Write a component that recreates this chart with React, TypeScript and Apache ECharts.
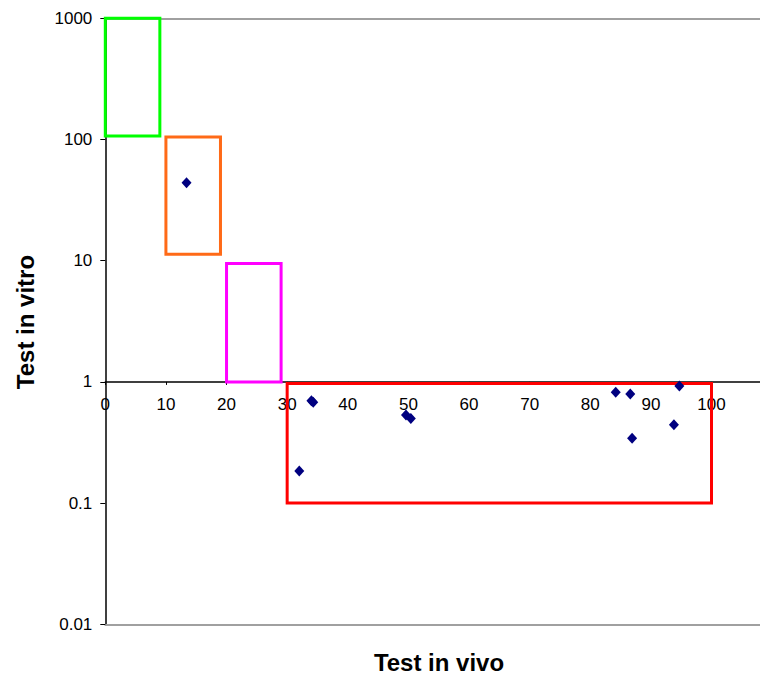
import React, { useEffect, useRef } from "react";
import * as echarts from "echarts";

// Scatter points: [test in vivo, test in vitro]
const vivo = [13.4, 32.0, 34.0, 34.3, 49.6, 50.4, 84.2, 86.6, 86.9, 93.8, 94.7];
const vitro = [44, 0.184, 0.7, 0.68, 0.533, 0.5, 0.82, 0.795, 0.343, 0.444, 0.925];

// Boxes: x0, x1, y0, y1
const boxX0 = [0, 10, 20, 30];
const boxX1 = [9, 19, 29, 100];
const boxY0 = [107, 11.3, 1, 0.1];
const boxY1 = [1000, 105, 9.5, 0.97];
const boxColors = ["#00ff00", "#ff6a17", "#ff00ff", "#ff0000"];

const yTickLabels = ["0.01", "0.1", "1", "10", "100", "1000"];

const X_MIN = 0;
const X_MAX = 108;

export default function App() {
  const ref = useRef<HTMLDivElement>(null);
  useEffect(() => {
    if (!ref.current) return;
    const chart = echarts.init(ref.current, undefined, { renderer: "svg" });
    const font = "'Liberation Sans', Arial, sans-serif";
    const boxData = boxX0.map((x0, i) => [x0, boxX1[i], boxY0[i], boxY1[i], i]);
    const pts = vivo.map((x, i) => [x, vitro[i]]);
    const gridTop = 18.3;
    const gridBottom = 674 - 624.3;
    const plotH = 624.3 - 18.3;
    const oneY = 18.3 + plotH * (3 / 5);
    chart.setOption({
      animation: false,
      backgroundColor: "#ffffff",
      grid: { left: 105.3, right: 0, top: gridTop, bottom: gridBottom, containLabel: false },
      xAxis: [
        {
          type: "value", min: X_MIN, max: X_MAX, position: "top",
          axisLine: { show: true, onZero: false, lineStyle: { color: "#a0a0a0", width: 2 } },
          axisTick: { show: false }, axisLabel: { show: false }, splitLine: { show: false },
        },
        {
          type: "value", min: X_MIN, max: X_MAX, position: "bottom",
          axisLine: { show: true, onZero: false, lineStyle: { color: "#a0a0a0", width: 2 } },
          axisTick: { show: false }, axisLabel: { show: false }, splitLine: { show: false },
        },
        {
          type: "value", min: X_MIN, max: X_MAX, interval: 10, position: "bottom",
          offset: -(624.3 - oneY),
          axisLine: { show: true, onZero: false, lineStyle: { color: "#000000", width: 1.5 } },
          axisTick: { show: true, length: 3, lineStyle: { color: "#000000" } },
          axisLabel: {
            show: true, margin: 14, fontSize: 17, color: "#000", fontFamily: font,
            showMaxLabel: false,
            formatter: (v: number) => (v % 10 === 0 && v <= 100 ? String(v) : ""),
          },
          splitLine: { show: false },
        },
      ],
      yAxis: {
        type: "log", logBase: 10, min: 0.01, max: 1000,
        axisLine: { show: true, lineStyle: { color: "#000000", width: 1.5 } },
        axisTick: { show: true, length: 5, lineStyle: { color: "#000000" } },
        minorTick: { show: false },
        axisLabel: {
          margin: 13, fontSize: 17, color: "#000", fontFamily: font,
          formatter: (v: number) => {
            const idx = Math.round(Math.log10(v)) + 2;
            return yTickLabels[idx] ?? String(v);
          },
        },
        splitLine: { show: false },
      },
      series: [
        {
          type: "custom",
          xAxisIndex: 2,
          yAxisIndex: 0,
          data: boxData,
          renderItem: (params: any, api: any) => {
            const p0 = api.coord([api.value(0), api.value(3)]);
            const p1 = api.coord([api.value(1), api.value(2)]);
            const idx = api.value(4);
            return {
              type: "rect",
              shape: { x: p0[0], y: p0[1], width: p1[0] - p0[0], height: p1[1] - p0[1] },
              style: { fill: "none", stroke: boxColors[idx], lineWidth: 3 },
            };
          },
          silent: true,
          z: 3,
        },
        {
          type: "scatter",
          xAxisIndex: 2,
          yAxisIndex: 0,
          data: pts,
          symbol: "diamond",
          symbolSize: [10, 11],
          itemStyle: { color: "#000080", opacity: 1 },
          z: 5,
        },
      ],
      graphic: [
        {
          type: "text", x: 25, y: 322, rotation: Math.PI / 2,
          style: {
            text: "Test in vitro", font: `bold 24px ${font}`, fill: "#000",
            align: "center", verticalAlign: "middle",
          },
        },
        {
          type: "text", x: 439, y: 662,
          style: {
            text: "Test in vivo", font: `bold 24px ${font}`, fill: "#000",
            align: "center", verticalAlign: "middle",
          },
        },
      ],
    });
    return () => chart.dispose();
  }, []);
  return (
    <div style={{ position: "fixed", left: 0, top: 0, width: 760, height: 674, background: "#fff" }}>
      <div ref={ref} style={{ width: 760, height: 674 }} />
    </div>
  );
}
